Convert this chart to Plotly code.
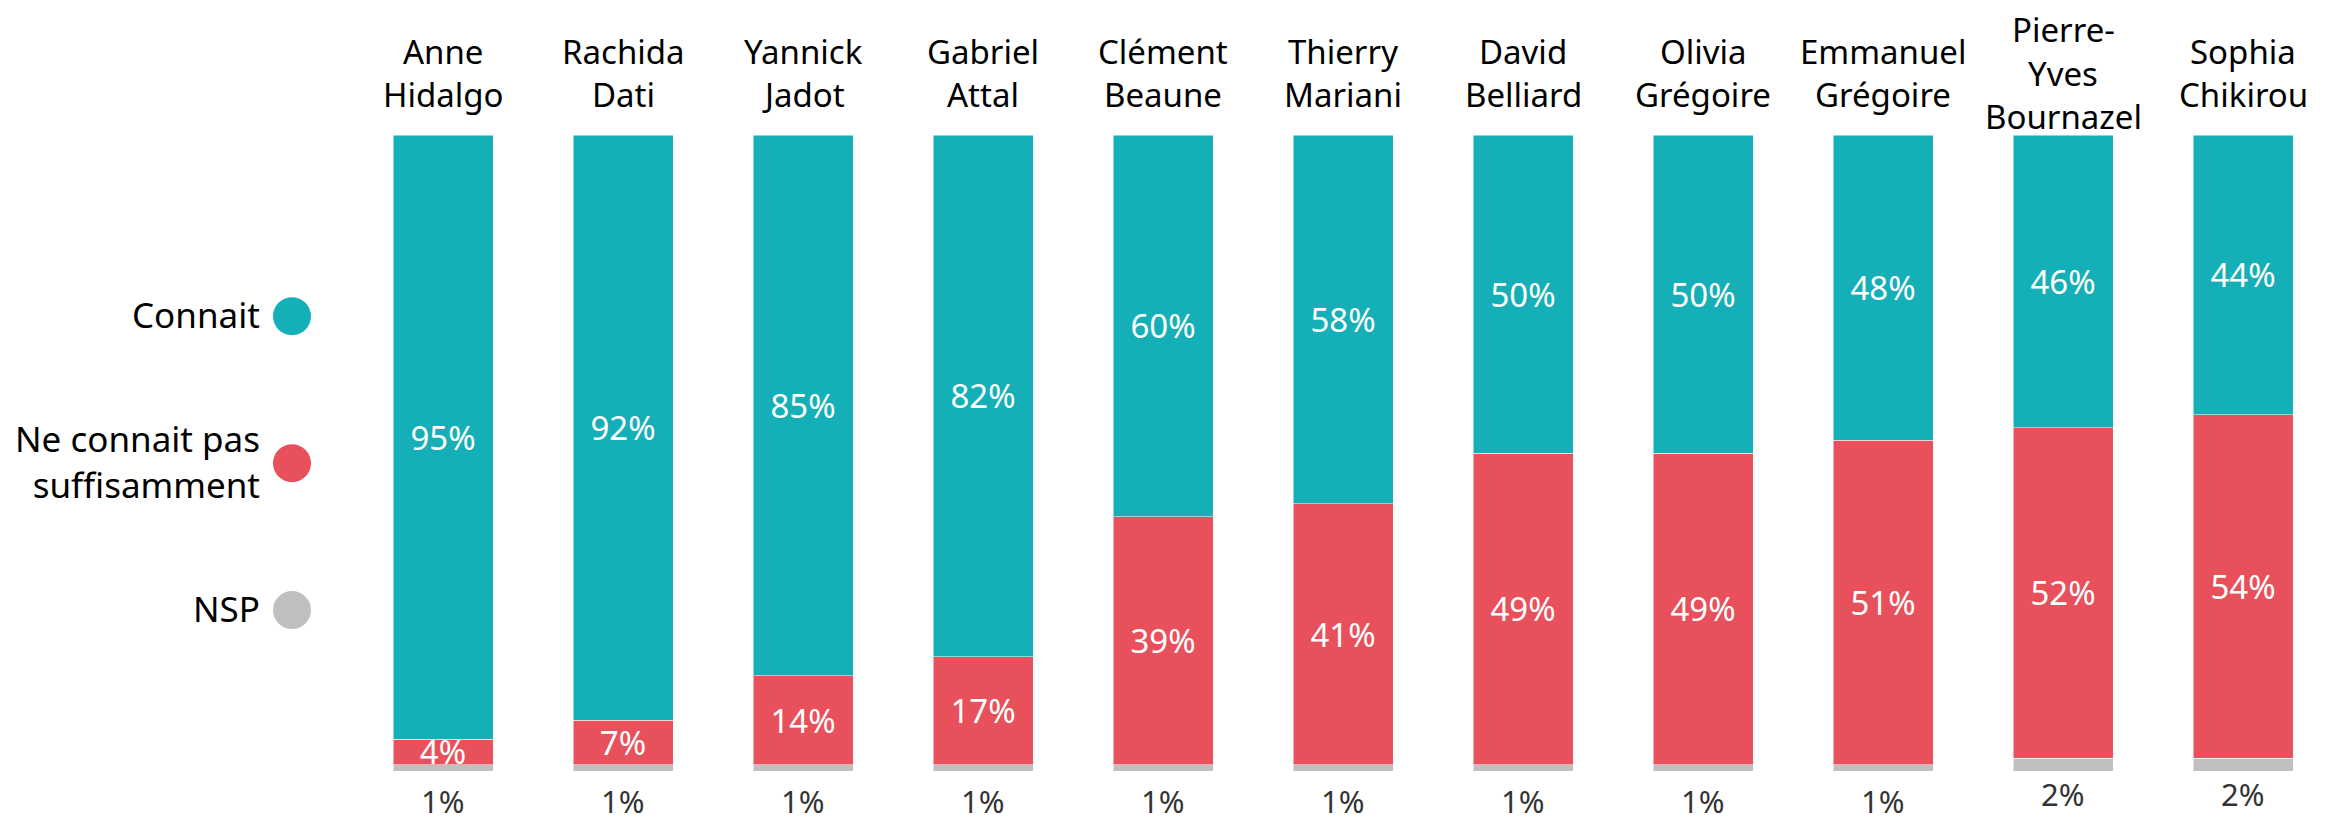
import plotly.graph_objects as go

candidates = ["Anne<br>Hidalgo", "Rachida<br>Dati", "Yannick<br>Jadot", "Gabriel<br>Attal",
              "Clément<br>Beaune", "Thierry<br>Mariani", "David<br>Belliard", "Olivia<br>Grégoire",
              "Emmanuel<br>Grégoire", "Pierre-<br>Yves<br>Bournazel", "Sophia<br>Chikirou"]
connait = [95, 92, 85, 82, 60, 58, 50, 50, 48, 46, 44]
ne_connait = [4, 7, 14, 17, 39, 41, 49, 49, 51, 52, 54]
nsp = [1, 1, 1, 1, 1, 1, 1, 1, 1, 2, 2]

series_names = ["Connait", "Ne connait pas<br>suffisamment", "NSP"]
colors = ["#14AFB7", "#E8505B", "#BFBFBF"]
legend_y = [71.5, 48.4, 25.3]

FONT = "Noto Sans"
x_idx = list(range(len(candidates)))

fig = go.Figure()
fig.add_trace(go.Bar(x=x_idx, y=nsp, name="NSP",
                     marker=dict(color=colors[2], line=dict(color="white", width=0.5)),
                     textposition="none"))
fig.add_trace(go.Bar(x=x_idx, y=ne_connait, name="Ne connait pas suffisamment",
                     marker=dict(color=colors[1], line=dict(color="white", width=0.5)),
                     texttemplate="%{y}%", textposition="inside", insidetextanchor="middle",
                     textangle=0, textfont=dict(color="white", size=33, family=FONT)))
fig.add_trace(go.Bar(x=x_idx, y=connait, name="Connait",
                     marker=dict(color=colors[0], line=dict(color="white", width=0.5)),
                     texttemplate="%{y}%", textposition="inside", insidetextanchor="middle",
                     textangle=0, textfont=dict(color="white", size=33, family=FONT)))

annotations = []
LINE_GAP = 43.5
for i, name in enumerate(candidates):
    lines = name.split("<br>")
    n = len(lines)
    for j, line in enumerate(lines):
        offset = (j - (n - 1) / 2) * LINE_GAP
        annotations.append(dict(x=i, xref="x", y=1.0, yref="paper", yshift=62 - offset, text=line,
                                showarrow=False, xanchor="center", yanchor="middle", borderpad=0,
                                font=dict(size=33, color="black", family=FONT)))
for i, v in enumerate(nsp):
    annotations.append(dict(x=i, xref="x", y=v, yref="y", yshift=-36, text=f"{v}%",
                            showarrow=False, xanchor="center", yanchor="middle", borderpad=0,
                            font=dict(size=31, color="#333333", family=FONT)))

shapes = []
for name, c, yy in zip(series_names, colors, legend_y):
    annotations.append(dict(x=0, xref="paper", xshift=-91, y=yy, yref="y", yshift=2, text=name,
                            showarrow=False, xanchor="right", yanchor="middle", align="right",
                            font=dict(size=35, color="black", family=FONT)))
    shapes.append(dict(type="circle", xref="paper", yref="y", xsizemode="pixel", ysizemode="pixel",
                       xanchor=0, yanchor=yy, x0=-80, x1=-42, y0=-19, y1=19,
                       fillcolor=c, line=dict(width=0)))

fig.update_layout(
    width=2332, height=813,
    margin=dict(l=345, r=7, t=127, b=50),
    barmode="stack", bargap=0.4444,
    plot_bgcolor="white", paper_bgcolor="white",
    showlegend=False,
    uniformtext=dict(minsize=33, mode="show"),
    annotations=annotations, shapes=shapes,
    font=dict(family=FONT),
)
fig.update_xaxes(range=[-0.5, len(candidates) - 0.5], showticklabels=False, showgrid=False,
                 zeroline=False, showline=False, ticks="")
fig.update_yaxes(range=[0, 100], showticklabels=False, showgrid=False, zeroline=False,
                 showline=False, ticks="")

fig.write_html("out.html")
